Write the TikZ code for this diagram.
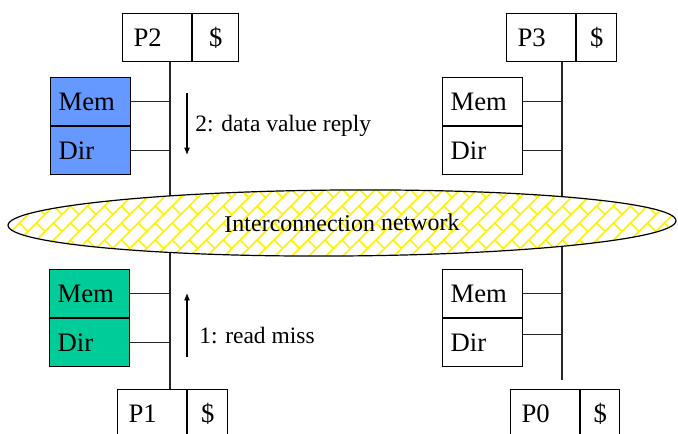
\documentclass[tikz,border=0pt]{standalone}
\usepackage{fontspec}
\setmainfont{Liberation Serif}
\usetikzlibrary{shapes.geometric,arrows.meta}
\definecolor{dirblue}{HTML}{6699FF}
\definecolor{dirgreen}{HTML}{00CC99}

\begin{document}
\begin{tikzpicture}[x=0.75pt,y=-0.75pt,
		box/.style={draw,line width=0.9pt,fill=white,inner ysep=0pt,minimum height=36pt,font=\fontsize{20}{24}\selectfont},
		cpu/.style={box,inner xsep=8.25pt,text width=35.25pt,align=left,anchor=north west},
		cache/.style={box,inner xsep=0pt,minimum width=#1,anchor=west},
		memory/.style={box,fill=#1,inner xsep=6pt,text width=48pt,align=left,anchor=north west},
		bus/.style={line width=0.9pt,draw=black!85},
		brick/.style={draw=yellow,line width=1.2pt},
		msg/.style={-{Latex[length=5.5pt,width=4.5pt]},line width=0.8pt},
		lbl/.style={inner sep=0pt,anchor=west,font=\fontsize{17.6}{20}\selectfont}]
	\useasboundingbox (0,0) rectangle (678,434);
	\coordinate (busL) at (170,0);
	\coordinate (busR) at (562,0);
	\coordinate (busRend) at (562,380);
	\node[cpu] (p2) at (122,13) {P2};
	\node[cache=34.5pt] (p2c) at (p2.east) {\$};
	\node[cpu] (p3) at (506,13) {P3};
	\node[cache=30pt] (p3c) at (p3.east) {\$};
	\node[cpu] (p1) at (117,389) {P1};
	\node[cache=30pt] (p1c) at (p1.east) {\$};
	\node[cpu] (p0) at (510,389) {P0};
	\node[cache=29.25pt] (p0c) at (p0.east) {\$};
	\draw[bus] (p2.south -| busL) -- (p1.north -| busL);
	\draw[bus] (p3.south -| busR) -- (busRend);
	\node[memory=dirblue] (mem2) at (50,77) {Mem};
	\node[memory=dirblue] (dir2) at (mem2.south west) {Dir};
	\node[memory=white] (mem3) at (442,77) {Mem};
	\node[memory=white] (dir3) at (mem3.south west) {Dir};
	\node[memory=dirgreen] (mem1) at (49,269) {Mem};
	\node[memory=dirgreen] (dir1) at (mem1.south west) {Dir};
	\node[memory=white] (mem0) at (442,269) {Mem};
	\node[memory=white] (dir0) at (mem0.south west) {Dir};
	\draw[bus] (mem2.east) -- (mem2.east -| busL);
	\draw[bus] (dir2.east) -- (dir2.east -| busL);
	\draw[bus] (mem1.east) -- (mem1.east -| busL);
	\draw[bus] (dir1.east) -- (dir1.east -| busL);
	\draw[bus] (mem3.east) -- (mem3.east -| busR);
	\draw[bus] (dir3.east) -- (dir3.east -| busR);
	\draw[bus] (mem0.east) -- (mem0.east -| busR);
	\draw[bus] ([yshift=6pt]dir0.east) -- ([yshift=6pt]dir0.east -| busR);
	\begin{scope}
		\clip[rotate around={0.4:(342,223)}] (342,223) ellipse [x radius=250.5pt,y radius=24.75pt];
		\fill[white] (0,0) rectangle (678,434);
		\begin{scope}[shift={(342,223)},rotate=45]
			\foreach \k [evaluate=\k as \off using {mod(\k+100,2)*12}] in {-29,...,29}{
				\draw[brick] (-360,\k*12) -- (360,\k*12);
				\foreach \j in {-15,...,15}
					\draw[brick] (\j*24+\off,\k*12) -- (\j*24+\off,\k*12+12);
			}
		\end{scope}
	\end{scope}
	\node[ellipse,draw,line width=0.9pt,minimum width=501pt,minimum height=49.5pt,inner sep=0pt,rotate=0.4,
		font=\fontsize{18}{20}\selectfont] (net) at (342,223) {Interconnection network};
	\coordinate (m2a) at (187,93);
	\coordinate (m2b) at (187,155);
	\draw[msg] (m2a) -- (m2b);
	\node[lbl] (reply) at (195,126) {2: data value reply};
	\coordinate (m1a) at (187,357);
	\coordinate (m1b) at (187,293);
	\draw[msg] (m1a) -- (m1b);
	\node[lbl] (miss) at (199,336) {1: read miss};
\end{tikzpicture}
\end{document}
